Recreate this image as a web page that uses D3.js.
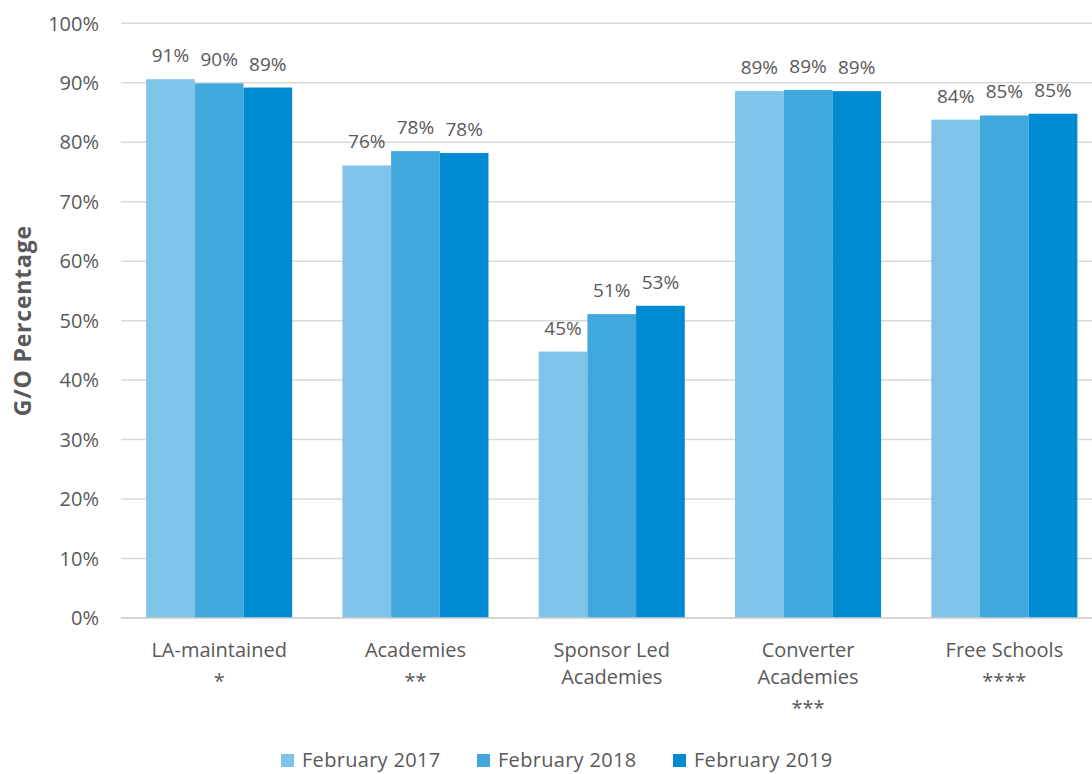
<!DOCTYPE html>
<html>
<head>
<meta charset="utf-8">
<script src="https://cdn.jsdelivr.net/npm/d3@7"></script>
<style>
  html, body { margin: 0; padding: 0; background: #ffffff; }
  svg { display: block; }
  text { font-family: "Open Sans", "DejaVu Sans", sans-serif; fill: #595959; }
</style>
</head>
<body>
<svg id="chart" width="1092" height="774"></svg>
<script>
const categories = [
  ["LA-maintained", "*"],
  ["Academies", "**"],
  ["Sponsor Led", "Academies"],
  ["Converter", "Academies", "***"],
  ["Free Schools", "****"]
];
const seriesNames = ["February 2017", "February 2018", "February 2019"];
const feb2017 = [90.6, 76.1, 44.8, 88.6, 83.8];
const feb2018 = [89.9, 78.5, 51.1, 88.8, 84.5];
const feb2019 = [89.2, 78.2, 52.5, 88.6, 84.8];
const barLabels2017 = ["91%", "76%", "45%", "89%", "84%"];
const barLabels2018 = ["90%", "78%", "51%", "89%", "85%"];
const barLabels2019 = ["89%", "78%", "53%", "89%", "85%"];
const yTicks = [0, 10, 20, 30, 40, 50, 60, 70, 80, 90, 100];
const colors = ["#7fc3e8", "#40a8dc", "#008ad2"];

const seriesValues = [feb2017, feb2018, feb2019];
const seriesLabels = [barLabels2017, barLabels2018, barLabels2019];

const svg = d3.select("#chart");
const plotLeft = 121, plotRight = 1102.5, plotTop = 23.3, plotBottom = 618;

const x = d3.scaleBand()
  .domain(d3.range(categories.length))
  .range([plotLeft, plotRight])
  .paddingInner(0.256)
  .paddingOuter(0.128);
const xs = d3.scaleBand()
  .domain(d3.range(seriesNames.length))
  .range([0, x.bandwidth()]);
const y = d3.scaleLinear().domain([0, 100]).range([plotBottom, plotTop]);

// gridlines
svg.append("g").selectAll("line")
  .data(yTicks)
  .join("line")
  .attr("x1", plotLeft).attr("x2", plotRight)
  .attr("y1", d => y(d)).attr("y2", d => y(d))
  .attr("stroke", "#d9d9d9")
  .attr("stroke-width", 1.5);

// y tick labels
svg.append("g").selectAll("text")
  .data(yTicks)
  .join("text")
  .attr("x", 99)
  .attr("y", d => y(d))
  .attr("dy", "0.36em")
  .attr("text-anchor", "end")
  .attr("font-size", 20)
  .text(d => d + "%");

// bars
const groups = svg.append("g").selectAll("g")
  .data(seriesValues)
  .join("g")
  .attr("fill", (d, i) => colors[i]);

groups.each(function(vals, si) {
  const g = d3.select(this);
  g.selectAll("rect")
    .data(vals)
    .join("rect")
    .attr("x", (d, ci) => x(ci) + xs(si))
    .attr("width", xs.bandwidth())
    .attr("y", d => y(d))
    .attr("height", d => y(0) - y(d));
  g.selectAll("text")
    .data(vals)
    .join("text")
    .attr("x", (d, ci) => x(ci) + xs(si) + xs.bandwidth() / 2)
    .attr("y", d => y(d) - 17)
    .attr("text-anchor", "middle")
    .attr("font-size", 19)
    .text((d, ci) => seriesLabels[si][ci]);
});

// x axis line
svg.append("line")
  .attr("x1", plotLeft).attr("x2", plotRight)
  .attr("y1", y(0)).attr("y2", y(0))
  .attr("stroke", "#d0d0d0").attr("stroke-width", 1.5);

// category labels
const catText = svg.append("g").selectAll("text")
  .data(categories)
  .join("text")
  .attr("text-anchor", "middle")
  .attr("font-size", 20)
  .attr("transform", (d, i) => `translate(${x(i) + x.bandwidth() / 2},657)`);
catText.selectAll("tspan")
  .data(d => d)
  .join("tspan")
  .attr("x", 0)
  .attr("y", (d, i) => i * 27 + (d.startsWith("*") ? 4 : 0))
  .text(d => d);

// y axis title
svg.append("text")
  .attr("transform", `translate(31,${(plotTop + plotBottom) / 2}) rotate(-90)`)
  .attr("text-anchor", "middle")
  .attr("font-size", 23)
  .attr("letter-spacing", 0.8)
  .attr("font-weight", "bold")
  .text("G/O Percentage");

// legend
const legend = svg.append("g").selectAll("g")
  .data(seriesNames)
  .join("g")
  .attr("transform", (d, i) => `translate(${281 + i * 196},754)`);
legend.append("rect")
  .attr("width", 13).attr("height", 13)
  .attr("fill", (d, i) => colors[i]);
legend.append("text")
  .attr("x", 21)
  .attr("y", 13)
  .attr("font-size", 20)
  .attr("letter-spacing", 0.3)
  .text(d => d);
</script>
</body>
</html>
